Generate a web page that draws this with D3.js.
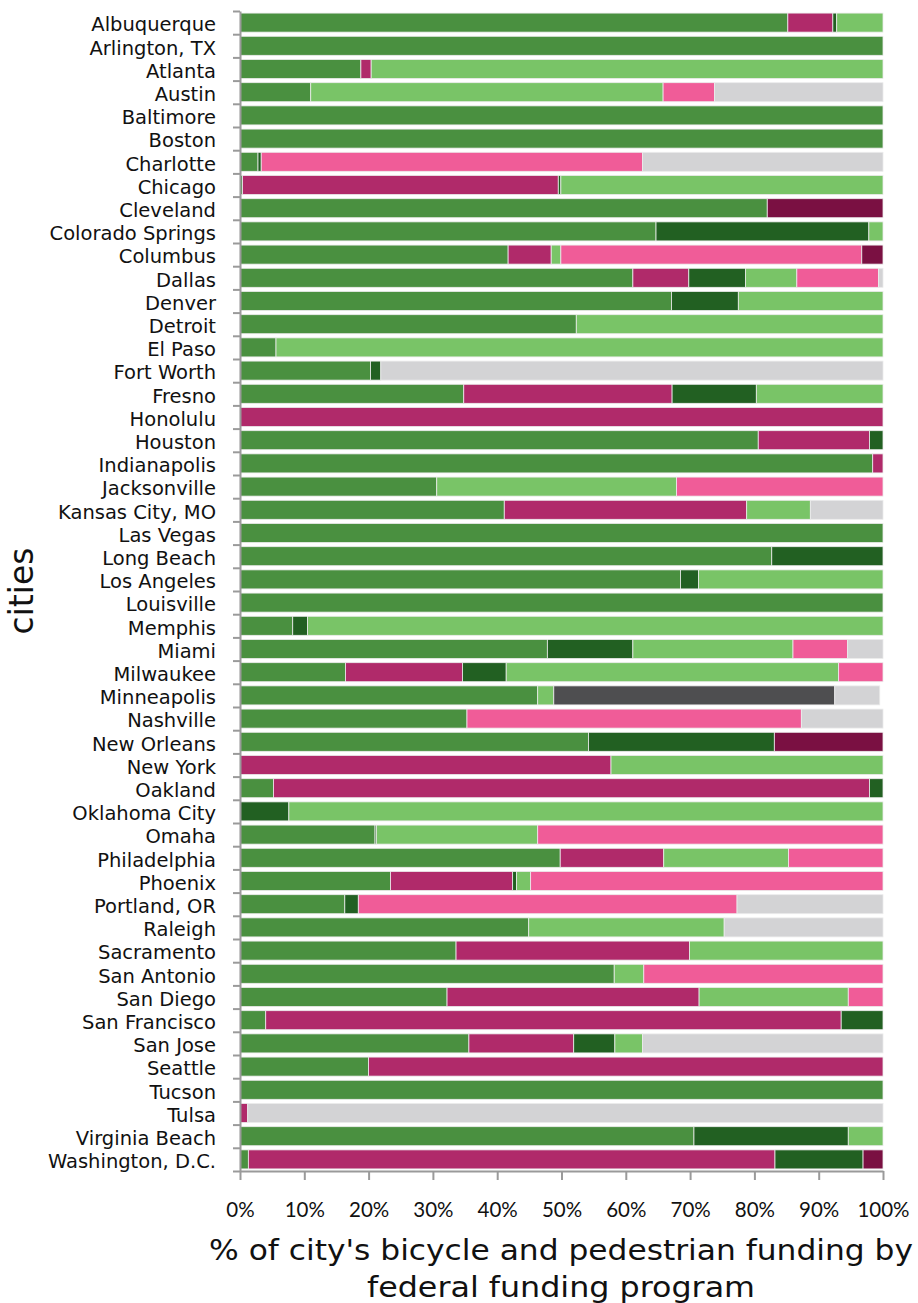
<!DOCTYPE html>
<html>
<head>
<meta charset="utf-8">
<script src="https://cdn.jsdelivr.net/npm/d3@7"></script>
<style>
  html, body { margin: 0; padding: 0; background: #fff; }
  svg { display: block; }
</style>
</head>
<body>
<div id="chart"></div>
<script>
const cities = ["Albuquerque","Arlington, TX","Atlanta","Austin","Baltimore","Boston","Charlotte","Chicago","Cleveland","Colorado Springs","Columbus","Dallas","Denver","Detroit","El Paso","Fort Worth","Fresno","Honolulu","Houston","Indianapolis","Jacksonville","Kansas City, MO","Las Vegas","Long Beach","Los Angeles","Louisville","Memphis","Miami","Milwaukee","Minneapolis","Nashville","New Orleans","New York","Oakland","Oklahoma City","Omaha","Philadelphia","Phoenix","Portland, OR","Raleigh","Sacramento","San Antonio","San Diego","San Francisco","San Jose","Seattle","Tucson","Tulsa","Virginia Beach","Washington, D.C."];

const programs = ["prog1","prog2","prog3","prog4","prog5","prog6","prog7","prog8"];
const programColors = ["#4a9040","#b02a6a","#226022","#79c467","#f05c98","#7a1042","#4e4e50","#d3d3d5"];

// % of each city's funding, one array per program (same order as cities)
const prog1 = [85.2,100,18.8,11.0,100,100,2.8,0.4,82.0,64.7,41.7,61.1,67.1,52.3,5.6,20.3,34.8,0,80.6,98.4,30.6,41.1,100,82.7,68.5,100,8.2,47.8,16.4,46.3,35.3,54.2,0,5.2,0,21.0,49.8,23.4,16.3,44.9,33.6,58.2,32.2,4.0,35.6,20.0,100,0,70.6,1.3];
const prog2 = [7.0,0,1.6,0,0,0,0,49.1,0,0,6.7,8.7,0,0,0,0,32.4,100,17.3,1.6,0,37.7,0,0,0,0,0,0,18.2,0,0,0,57.7,92.7,0,0,16.1,19.0,0,0,36.3,0,39.2,89.5,16.3,80.0,0,1.2,0,81.9];
const prog3 = [0.6,0,0,0,0,0,0.5,0.4,0,33.1,0,8.8,10.4,0,0,1.6,13.1,0,2.1,0,0,0,0,17.3,2.8,0,2.3,13.3,6.8,0,0,28.9,0,2.1,7.6,0.2,0,0.6,2.1,0,0,0,0,6.5,6.4,0,0,0,24.0,13.7];
const prog4 = [7.2,0,79.6,54.8,0,0,0,50.1,0,2.2,1.5,8.0,22.5,47.7,94.4,0,19.7,0,0,0,37.3,9.9,0,0,28.7,0,89.5,24.9,51.7,2.5,0,0,42.3,0,92.4,25.1,19.4,2.2,0,30.4,30.1,4.6,23.2,0,4.3,0,0,0,5.4,0];
const prog5 = [0,0,0,8.0,0,0,59.3,0,0,0,46.8,12.7,0,0,0,0,0,0,0,0,32.1,0,0,0,0,0,0,8.5,6.9,0,52.0,0,0,0,0,53.7,14.7,54.8,58.9,0,0,37.2,5.4,0,0,0,0,0,0,0];
const prog6 = [0,0,0,0,0,0,0,0,18.0,0,3.3,0,0,0,0,0,0,0,0,0,0,0,0,0,0,0,0,0,0,0,0,16.9,0,0,0,0,0,0,0,0,0,0,0,0,0,0,0,0,0,3.1];
const prog7 = [0,0,0,0,0,0,0,0,0,0,0,0,0,0,0,0,0,0,0,0,0,0,0,0,0,0,0,0,0,43.7,0,0,0,0,0,0,0,0,0,0,0,0,0,0,0,0,0,0,0,0];
const prog8 = [0,0,0,26.2,0,0,37.4,0,0,0,0,0.7,0,0,0,78.1,0,0,0,0,0,11.3,0,0,0,0,0,5.5,0,7.0,12.7,0,0,0,0,0,0,0,22.7,24.7,0,0,0,0,37.4,0,0,98.8,0,0];

const xTicks = [0,10,20,30,40,50,60,70,80,90,100];
const yAxisTitle = "cities";
const xAxisTitle = ["% of city's bicycle and pedestrian funding by", "federal funding program"];

const seriesArrays = [prog1,prog2,prog3,prog4,prog5,prog6,prog7,prog8];
const table = cities.map((c, i) => {
  const row = { city: c };
  programs.forEach((p, j) => row[p] = seriesArrays[j][i]);
  return row;
});

const W = 918, H = 1303;
const margin = { left: 240, right: 35, top: 11, bottom: 132 };
const iw = W - margin.left - margin.right;
const ih = H - margin.top - margin.bottom;

const svg = d3.select("#chart").append("svg").attr("width", W).attr("height", H);
const g = svg.append("g").attr("transform", `translate(${margin.left},${margin.top})`);

const x = d3.scaleLinear().domain([0, 100]).range([0, iw]);
const y = d3.scaleBand().domain(cities).range([0, ih]).paddingInner(0.18).paddingOuter(0.09);
const color = d3.scaleOrdinal().domain(programs).range(programColors);

const stack = d3.stack().keys(programs);
const series = stack(table);

g.selectAll("g.series").data(series).join("g")
  .attr("class", "series")
  .attr("fill", d => color(d.key))
  .selectAll("rect")
  .data(d => d.filter(s => s[1] - s[0] > 0))
  .join("rect")
  .attr("x", d => x(d[0]))
  .attr("width", d => x(d[1]) - x(d[0]))
  .attr("y", d => y(d.data.city))
  .attr("height", y.bandwidth())
  .attr("stroke", "#ececec")
  .attr("stroke-width", 0.8);

// y axis: labels
const yAxis = g.append("g").call(d3.axisLeft(y).tickSize(0).tickPadding(24));
yAxis.select(".domain").remove();
yAxis.selectAll("text")
  .attr("font-family", "'DejaVu Sans', sans-serif")
  .attr("font-size", 19.5)
  .attr("fill", "#111")
  .attr("dy", "0.45em");

// y axis line + boundary ticks
const yb = d3.scaleLinear().domain([0, cities.length]).range([0, ih]);
const yTickG = g.append("g").call(d3.axisLeft(yb).tickValues(d3.range(0, cities.length + 1)).tickSize(7).tickSizeOuter(0).tickFormat(""));
yTickG.selectAll("path, line").attr("stroke", "#9a9a9a").attr("stroke-width", 2);

// x axis
const xAxis = g.append("g").attr("transform", `translate(0,${ih})`)
  .call(d3.axisBottom(x).tickValues(xTicks).tickSize(9).tickSizeOuter(0).tickPadding(22).tickFormat(d => d + "%"));
xAxis.selectAll("path, line").attr("stroke", "#9a9a9a").attr("stroke-width", 2);
xAxis.selectAll("text")
  .attr("font-family", "Lato, 'Open Sans', sans-serif")
  .attr("font-size", 20.5)
  .attr("fill", "#111");

// axis titles
svg.append("text")
  .attr("transform", `translate(33,${margin.top + ih / 2}) rotate(-90)`)
  .attr("text-anchor", "middle")
  .attr("font-family", "'DejaVu Sans', sans-serif")
  .attr("font-size", 33)
  .attr("fill", "#111")
  .text(yAxisTitle);

svg.selectAll("text.xtitle").data(xAxisTitle).join("text")
  .attr("class", "xtitle")
  .attr("x", 561)
  .attr("y", (d, i) => 1260 + i * 37)
  .attr("text-anchor", "middle")
  .attr("font-family", "'DejaVu Sans', sans-serif")
  .attr("font-size", 29)
  .attr("fill", "#111")
  .attr("textLength", (d, i) => i === 0 ? 704 : 388)
  .attr("lengthAdjust", "spacingAndGlyphs")
  .text(d => d);
</script>
</body>
</html>
